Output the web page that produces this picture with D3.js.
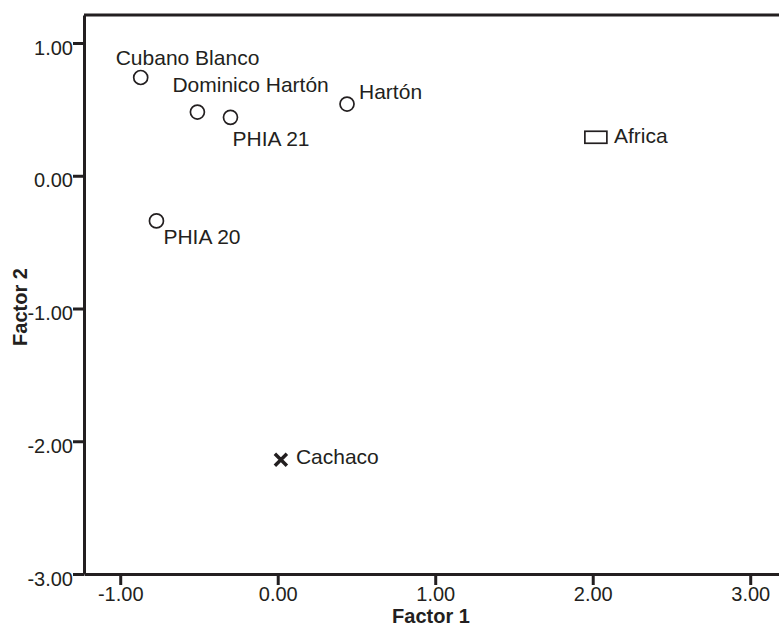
<!DOCTYPE html>
<html>
<head>
<meta charset="utf-8">
<script src="https://cdn.jsdelivr.net/npm/d3@7"></script>
<style>
	body { margin: 0; background: #fff; }
	svg { display: block; }
	text { font-family: Arial, "Liberation Sans", sans-serif; fill: #231f20; }
</style>
</head>
<body>
<div id="chart"></div>
<script>
"use strict";

const width = 779, height = 630;

//  Data
const names   = ['Cubano Blanco', 'Dominico Hartón', 'PHIA 21', 'Hartón', 'Africa', 'PHIA 20', 'Cachaco'];
const factor1 = [-0.87, -0.51, -0.30, 0.44, 2.02, -0.77, 0.02];
const factor2 = [0.74, 0.48, 0.44, 0.54, 0.29, -0.34, -2.14];
const groups  = ['circle', 'circle', 'circle', 'circle', 'rect', 'circle', 'cross'];
const xTicks  = [-1, 0, 1, 2, 3];
const yTicks  = [-3, -2, -1, 0, 1];

//  Label offsets from the marker (pixels)
const labelOffset = {
	'Cubano Blanco': [-25, -13],
	'Dominico Hartón': [-25, -20],
	'PHIA 21': [2, 29],
	'Hartón': [12, -5],
	'Africa': [18, 6],
	'PHIA 20': [7, 23],
	'Cachaco': [15, 4]
};

const points = names.map((name, i) => ({ name: name, x: factor1[i], y: factor2[i], group: groups[i] }));

const ink = '#231f20';
const x = d3.scaleLinear().domain([-1.23, 3.25]).range([84, 84 + 4.48 * 157.5]);
const y = d3.scaleLinear().domain([-3, 1.211]).range([574, 15]);

//  SPSS style labels use a plain hyphen
const fmt = v => d3.format('.2f')(v).replace('\u2212', '-');

const svg = d3.select('#chart').append('svg')
	.attr('width', width)
	.attr('height', height);

//  Top frame line
svg.append('line')
	.attr('x1', x.range()[0]).attr('x2', x.range()[1])
	.attr('y1', y.range()[1]).attr('y2', y.range()[1])
	.attr('stroke', ink).attr('stroke-width', 3);

//  Axes
function styleAxis(g)
{
	g.select('.domain').attr('stroke', ink).attr('stroke-width', 3);
	g.selectAll('.tick line').attr('stroke', ink).attr('stroke-width', 3);
	g.selectAll('.tick text').attr('fill', ink).style('font-size', '20px').style('font-family', 'Arial, "Liberation Sans", sans-serif');
}

svg.append('g')
	.attr('transform', `translate(0, ${y(-3)})`)
	.call(d3.axisBottom(x).tickValues(xTicks).tickFormat(fmt).tickSize(11).tickSizeOuter(0).tickPadding(2))
	.call(styleAxis);

svg.append('g')
	.attr('transform', `translate(${x.range()[0]}, 0)`)
	.call(d3.axisLeft(y).tickValues(yTicks).tickFormat(fmt).tickSize(11).tickSizeOuter(0).tickPadding(0))
	.call(styleAxis)
	.selectAll('.tick text').attr('dy', '0.55em');

//  Axis titles
svg.append('text')
	.attr('x', 431)
	.attr('y', 623)
	.attr('text-anchor', 'middle')
	.style('font-size', '20px')
	.style('font-weight', 'bold')
	.text('Factor 1');

svg.append('text')
	.attr('transform', 'translate(27, 307) rotate(-90)')
	.attr('text-anchor', 'middle')
	.style('font-size', '20px')
	.style('font-weight', 'bold')
	.text('Factor 2');

//  Markers
let marks = svg.selectAll('.mark')
	.data(points)
	.join('g')
	.classed('mark', true)
	.attr('transform', d => `translate(${x(d.x)}, ${y(d.y)})`);

marks.filter(d => d.group === 'circle')
	.append('circle')
	.attr('r', 7)
	.attr('fill', 'none')
	.attr('stroke', ink)
	.attr('stroke-width', 1.7);

marks.filter(d => d.group === 'rect')
	.append('rect')
	.attr('x', -11).attr('y', -6)
	.attr('width', 22).attr('height', 12)
	.attr('fill', 'none')
	.attr('stroke', ink)
	.attr('stroke-width', 1.7);

marks.filter(d => d.group === 'cross')
	.append('path')
	.attr('d', 'M -6 -6 L 6 6 M 6 -6 L -6 6')
	.attr('stroke', ink)
	.attr('stroke-width', 3.5);

marks.append('text')
	.attr('x', d => labelOffset[d.name][0])
	.attr('y', d => labelOffset[d.name][1])
	.style('font-size', '21px')
	.text(d => d.name);
</script>
</body>
</html>
